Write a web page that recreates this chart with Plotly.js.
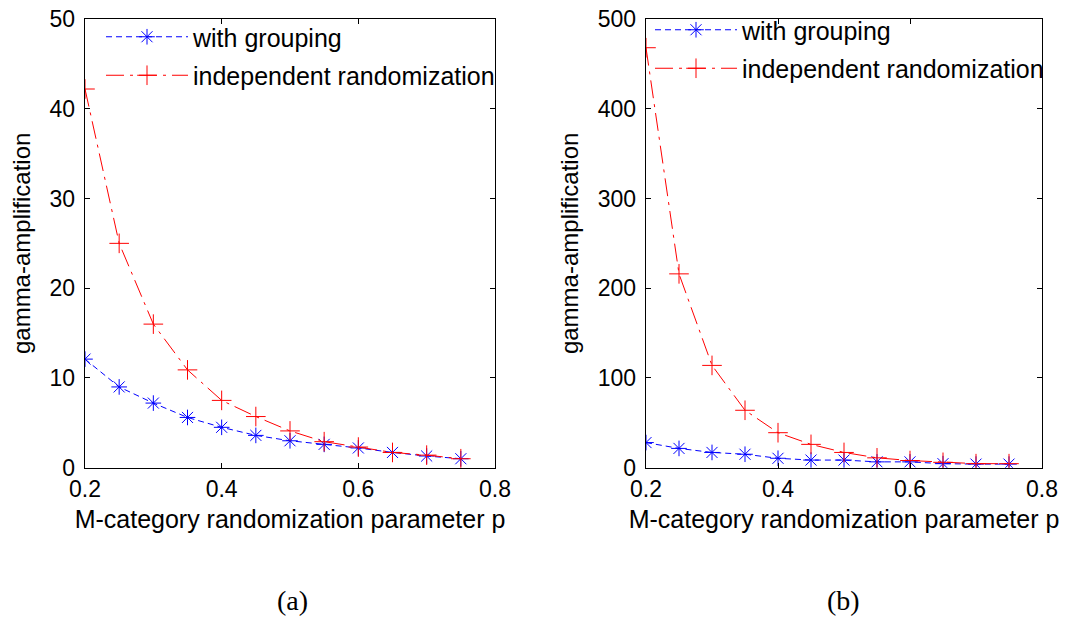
<!DOCTYPE html>
<html>
<head>
<meta charset="utf-8">
<script src="https://cdn.plot.ly/plotly-3.0.1.min.js"></script>
<style>
  html, body { margin: 0; padding: 0; background: #fff; }
  #chart { width: 1067px; height: 617px; }
</style>
</head>
<body>
<div id="chart"></div>
<script>
// randomization parameter p
const pValues = [0.2, 0.25, 0.3, 0.35, 0.4, 0.45, 0.5, 0.55, 0.6, 0.65, 0.7, 0.75];

// panel (a)
const groupingA    = [12.1, 9.0, 7.2, 5.6, 4.5, 3.6, 3.0, 2.6, 2.2, 1.7, 1.3, 1.0];
const independentA = [42.2, 25.0, 16.0, 10.9, 7.5, 5.7, 4.1, 2.9, 2.3, 1.7, 1.4, 1.0];

// panel (b)
const groupingB    = [28, 21.5, 17, 15, 10.5, 8.5, 8.5, 6.5, 6.5, 4.5, 4, 4];
const independentB = [468, 216, 114, 64, 39, 26, 17, 11, 8, 6, 4.5, 4.5];

const seriesNames = ['with grouping', 'independent randomization'];
const xTitle = 'M-category randomization parameter p';
const yTitle = 'gamma-amplification';
const captions = ['(a)', '(b)'];

const FONT = 'Liberation Sans, Arial, Helvetica, sans-serif';
const SERIF = 'Liberation Serif, Times New Roman, serif';
const W = 1067, H = 617;

function groupingTrace(y, xa, ya, legend) {
  return {
    x: pValues, y: y, xaxis: xa, yaxis: ya, legend: legend,
    name: seriesNames[0], legendgroup: 'g' + xa, type: 'scatter', mode: 'lines+markers',
    line: { color: '#0000ff', width: 1, dash: '6px,4px' },
    marker: { symbol: 'asterisk-open', size: 13, color: '#0000ff', line: { color: '#0000ff', width: 1 } }
  };
}
function independentTrace(y, xa, ya, legend) {
  return {
    x: pValues, y: y, xaxis: xa, yaxis: ya, legend: legend,
    name: seriesNames[1], legendgroup: 'i' + xa, type: 'scatter', mode: 'lines+markers',
    line: { color: '#ff0000', width: 1, dash: '18px,6px,3px,6px' },
    marker: { symbol: 'cross-thin-open', size: 14, color: '#ff0000', line: { color: '#ff0000', width: 1 } }
  };
}

const data = [
  groupingTrace(groupingA, 'x', 'y', 'legend'),
  independentTrace(independentA, 'x', 'y', 'legend'),
  groupingTrace(groupingB, 'x2', 'y2', 'legend2'),
  independentTrace(independentB, 'x2', 'y2', 'legend2')
];

function xAxis(domain, anchor) {
  return {
    domain: domain, anchor: anchor, range: [0.2, 0.8], dtick: 0.2, tick0: 0.2,
    tickformat: '.1f', ticks: 'inside', ticklen: 5, tickcolor: '#000',
    showline: true, linecolor: '#000', linewidth: 1.4, mirror: 'ticks',
    showgrid: false, zeroline: false,
    tickfont: { family: FONT, size: 23, color: '#000' },
    title: { text: xTitle, font: { family: FONT, size: 25, color: '#000' }, standoff: 9 }
  };
}
function yAxis(domain, anchor, max, step) {
  return {
    domain: domain, anchor: anchor, range: [0, max], dtick: step,
    ticks: 'inside', ticklen: 5, tickcolor: '#000',
    showline: true, linecolor: '#000', linewidth: 1.4, mirror: 'ticks',
    showgrid: false, zeroline: false, ticklabelstandoff: 4,
    tickfont: { family: FONT, size: 23, color: '#000' },
    title: { text: yTitle, font: { family: FONT, size: 24, color: '#000' }, standoff: 12 }
  };
}

const yDom = [1 - 467.7 / H, 1 - 19 / H];
const legendStyle = (x, y) => ({
  x: x, y: y, xanchor: 'left', yanchor: 'top',
  bgcolor: 'rgba(0,0,0,0)', borderwidth: 0,
  font: { family: FONT, size: 25, color: '#000' },
  itemwidth: 82, tracegroupgap: 3
});

const layout = {
  width: W, height: H,
  margin: { l: 0, r: 0, t: 0, b: 0 },
  paper_bgcolor: '#fff', plot_bgcolor: '#fff',
  showlegend: true,
  xaxis: xAxis([85 / W, 495 / W], 'y'),
  yaxis: yAxis(yDom, 'x', 50, 10),
  xaxis2: xAxis([646 / W, 1042 / W], 'y2'),
  yaxis2: yAxis(yDom, 'x2', 500, 100),
  legend: legendStyle(101 / W, 1 - 14 / H),
  legend2: legendStyle(650 / W, 1 - 7 / H),
  annotations: [
    { text: captions[0], x: 292 / W, y: 1 - 600 / H, xref: 'paper', yref: 'paper',
      xanchor: 'center', yanchor: 'middle',
      showarrow: false, font: { family: SERIF, size: 28, color: '#000' } },
    { text: captions[1], x: 843 / W, y: 1 - 600 / H, xref: 'paper', yref: 'paper',
      xanchor: 'center', yanchor: 'middle',
      showarrow: false, font: { family: SERIF, size: 28, color: '#000' } }
  ]
};

Plotly.newPlot('chart', data, layout, { staticPlot: true });
</script>
</body>
</html>
